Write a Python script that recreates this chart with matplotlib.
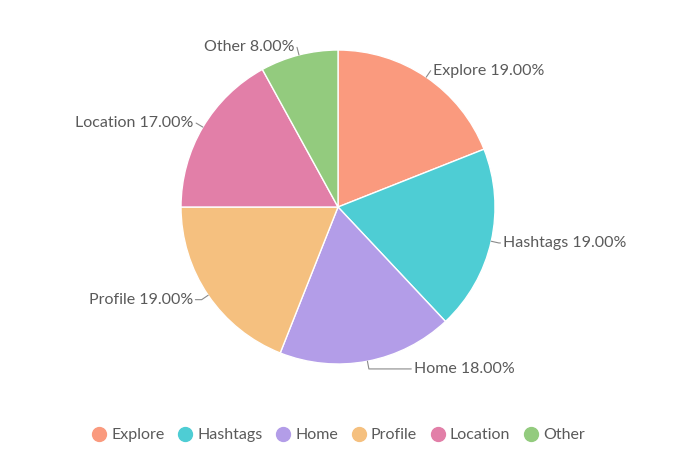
import numpy as np
import matplotlib.pyplot as plt
from matplotlib.lines import Line2D

# data
labels = ['Explore', 'Hashtags', 'Home', 'Profile', 'Location', 'Other']
values = [19, 19, 18, 19, 17, 8]
colors = ['#FA9A7E', '#4ECDD4', '#B39DE8', '#F5C07F', '#E27FA8', '#93CB7E']
# length of the horizontal part of each leader line (pie radius units)
leader_len = [0.0, 0.01, 0.27, 0.04, 0.0, 0.0]

plt.rcParams['font.family'] = ['Lato', 'DejaVu Sans']
text_color = '#5a5a5a'

fig = plt.figure(figsize=(6.97, 4.63), dpi=100)
ax = fig.add_axes([0.2597, 0.2138, 0.4505, 0.6782])

wedges, _ = ax.pie(values, colors=colors, startangle=90, counterclock=False,
                   radius=1.0,
                   wedgeprops=dict(edgecolor='white', linewidth=1.0))

total = sum(values)
for w, lab, v, ll in zip(wedges, labels, values, leader_len):
    ang = np.deg2rad((w.theta1 + w.theta2) / 2)
    x0, y0 = np.cos(ang), np.sin(ang)
    x1, y1 = 1.05 * x0, 1.05 * y0
    side = 1 if x0 >= 0 else -1
    x2 = x1 + side * ll
    ax.plot([x0, x1, x2], [y0, y1, y1], color='#8a8a8a', lw=0.8,
            solid_capstyle='round', clip_on=False)
    ax.text(x2 + side * 0.015, y1, f'{lab} {v / total * 100:.2f}%',
            ha='left' if side > 0 else 'right', va='center',
            fontsize=11.5, color=text_color)

ax.set_xlim(-1, 1)
ax.set_ylim(-1, 1)
ax.set_aspect('equal')
ax.axis('off')

handles = [Line2D([], [], marker='o', linestyle='', markersize=10,
                  markerfacecolor=c, markeredgecolor=c) for c in colors]
fig.legend(handles, labels, loc='center', bbox_to_anchor=(0.485, 0.06),
           ncol=6, frameon=False, fontsize=11.5, handletextpad=0.25,
           columnspacing=0.8, labelcolor=text_color, handlelength=1.0)

fig.savefig('out.png', dpi=100, facecolor='white')
